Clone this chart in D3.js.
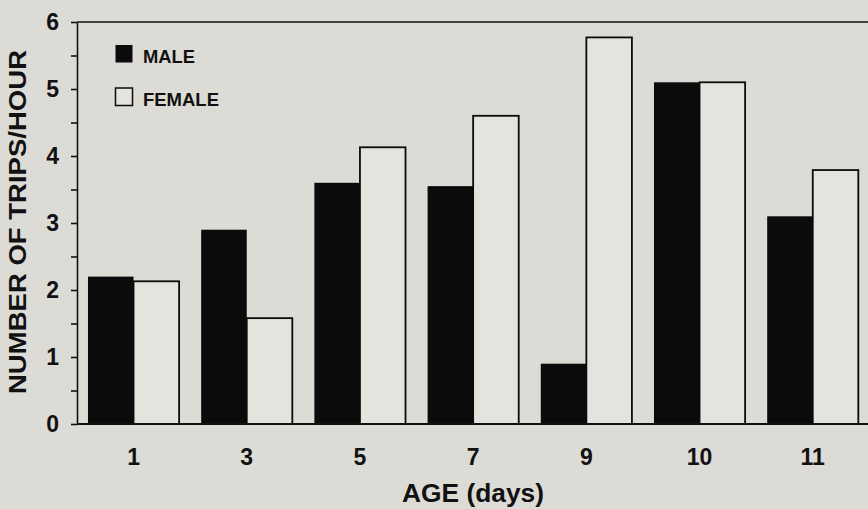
<!DOCTYPE html>
<html><head><meta charset="utf-8">
<script src="https://cdn.jsdelivr.net/npm/d3@7"></script>
<style>
body{margin:0;background:#dddbd6;}
svg{display:block;font-family:"Liberation Sans",Arial,Helvetica,sans-serif;font-weight:bold;}
svg text{font-family:"Liberation Sans",Arial,Helvetica,sans-serif;font-weight:bold;}
</style>
</head><body><svg id="c" width="868" height="509"></svg>
<script>
const categories = ["1","3","5","7","9","10","11"];
const seriesNames = ["MALE","FEMALE"];
const maleValues = [2.2, 2.9, 3.6, 3.55, 0.9, 5.1, 3.1];
const femaleValues = [2.13, 1.58, 4.13, 4.6, 5.77, 5.1, 3.79];
const yTickLabels = [0,1,2,3,4,5,6];
const xTitle = "AGE (days)";
const yTitle = "NUMBER OF TRIPS/HOUR";

(function(){
const svg = d3.select("#c");
const W = 868, H = 509;
const mLeft = 77, mTop = 22, mBottom = 424;
const bg = "#dddbd6", femaleFill = "#e4e3de";
const FONT = '"Liberation Sans",Arial,Helvetica,sans-serif';

svg.append("rect").attr("width", W).attr("height", H).attr("fill", bg);

const y = d3.scaleLinear().domain([0, 6]).range([mBottom, mTop]);
const x0 = d3.scaleBand().domain(categories).range([mLeft, 869.3]).paddingInner(0.195).paddingOuter(0.097);
const x1 = d3.scaleBand().domain(seriesNames).range([0, x0.bandwidth()]).padding(0);

const rows = categories.map((c, i) => ({cat: c, vals: [
  {s: "MALE", v: maleValues[i]}, {s: "FEMALE", v: femaleValues[i]}]}));

const g = svg.append("g");
g.selectAll("g.grp").data(rows).join("g").attr("class", "grp")
  .attr("transform", d => `translate(${x0(d.cat)},0)`)
  .selectAll("rect").data(d => d.vals).join("rect")
  .attr("x", d => x1(d.s))
  .attr("y", d => y(d.v))
  .attr("width", x1.bandwidth())
  .attr("height", d => y(0) - y(d.v))
  .attr("fill", d => d.s === "MALE" ? "#0b0b0b" : femaleFill)
  .attr("stroke", "#0b0b0b")
  .attr("stroke-width", d => d.s === "MALE" ? 0 : 1.8);

svg.append("line").attr("x1", mLeft).attr("x2", W).attr("y1", y(6)).attr("y2", y(6))
  .attr("stroke", "#111").attr("stroke-width", 1.6);
svg.append("line").attr("x1", mLeft).attr("x2", W).attr("y1", y(0)).attr("y2", y(0))
  .attr("stroke", "#111").attr("stroke-width", 1.8);

const yAxis = d3.axisLeft(y)
  .tickValues(d3.range(0, 6.001, 0.5))
  .tickSize(6).tickSizeOuter(0).tickPadding(12)
  .tickFormat(d => yTickLabels.includes(d) ? String(d) : "");
const ya = svg.append("g").attr("transform", `translate(${mLeft},0)`).call(yAxis)
  .attr("font-family", FONT).attr("font-size", 23);
ya.selectAll("path,line").attr("stroke", "#111").attr("stroke-width", 1.6);
ya.selectAll("text").attr("fill", "#111");

const xAxis = d3.axisBottom(x0).tickSize(0).tickPadding(25);
const xa = svg.append("g").attr("transform", `translate(0,${mBottom})`).call(xAxis)
  .attr("font-family", FONT).attr("font-size", 23);
xa.select(".domain").remove();
xa.selectAll("text").attr("fill", "#111");

svg.append("text").attr("x", 473).attr("y", 502).attr("text-anchor", "middle")
  .attr("font-size", 26).attr("fill", "#111")
  .attr("textLength", 142).attr("lengthAdjust", "spacingAndGlyphs").text(xTitle);
svg.append("text").attr("transform", "translate(26,222) rotate(-90)").attr("text-anchor", "middle")
  .attr("font-size", 23).attr("fill", "#111")
  .attr("textLength", 344).attr("lengthAdjust", "spacingAndGlyphs").text(yTitle);

const leg = svg.append("g").attr("transform", "translate(115,45)");
seriesNames.forEach((s, i) => {
  const gy = i * 43;
  leg.append("rect").attr("x", 0.5).attr("y", gy).attr("width", 17).attr("height", 17.5)
    .attr("fill", s === "MALE" ? "#0b0b0b" : femaleFill)
    .attr("stroke", "#0b0b0b").attr("stroke-width", s === "MALE" ? 0 : 1.5);
  leg.append("text").attr("x", 28).attr("y", gy + 17.5).attr("font-size", 19).attr("fill", "#111")
    .attr("textLength", s === "MALE" ? 52 : 76).attr("lengthAdjust", "spacingAndGlyphs").text(s);
});
})();
</script>
</body></html>
